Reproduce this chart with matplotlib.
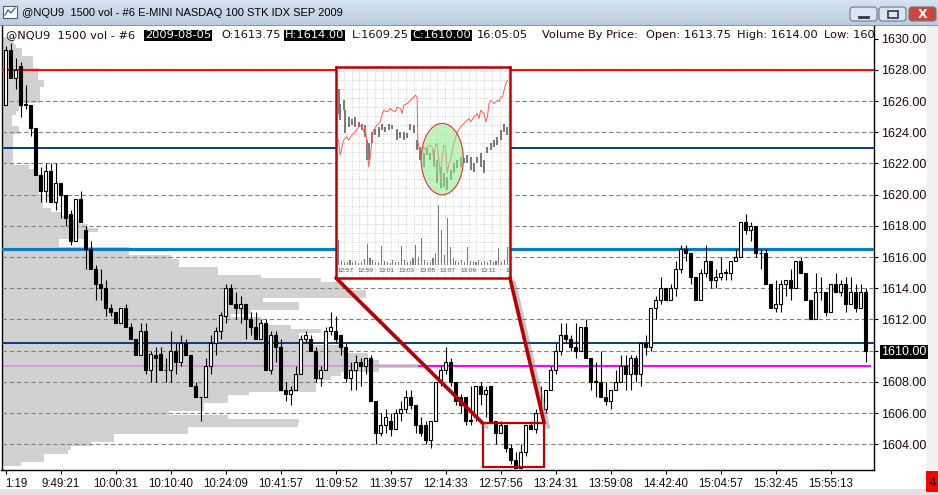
import numpy as np
import matplotlib
matplotlib.use("Agg")
import matplotlib.pyplot as plt
import matplotlib.patheffects as pe
from matplotlib.patches import Rectangle, Ellipse, ConnectionPatch, FancyBboxPatch
from matplotlib.colors import LinearSegmentedColormap
from matplotlib.ticker import MultipleLocator

W, H = 938, 495

# 1500-volume bars, @NQU9 2009-08-05
opens = [1625.75, 1629.25, 1627.5, 1628.25, 1625.75, 1625.75, 1624.25, 1621.25, 1620.25, 1621.5,
         1619.5, 1620.75, 1620.0, 1618.75, 1617.0, 1619.75, 1617.75, 1616.5, 1615.25, 1614.25,
         1614.0, 1612.75, 1612.5, 1611.75, 1612.75, 1611.5, 1610.75, 1609.75, 1611.25, 1608.75,
         1609.75, 1609.75, 1608.75, 1608.75, 1610.0, 1609.25, 1610.5, 1609.75, 1607.75, 1607.0,
         1607.0, 1609.0, 1610.5, 1611.25, 1612.25, 1614.0, 1613.0, 1612.75, 1613.0, 1612.0,
         1611.5, 1610.75, 1611.75, 1608.75, 1611.0, 1610.25, 1607.5, 1607.25, 1607.5, 1608.5,
         1610.75, 1610.75, 1610.0, 1608.25, 1608.75, 1611.25, 1611.25, 1611.0, 1610.25, 1608.25,
         1608.75, 1609.25, 1609.0, 1609.5, 1606.75, 1604.75, 1605.25, 1605.5, 1605.0, 1606.0,
         1606.25, 1607.0, 1606.5, 1605.25, 1605.25, 1604.25, 1605.5, 1608.0, 1608.75, 1609.25,
         1608.0, 1607.0, 1607.0, 1605.5, 1605.75, 1607.75, 1607.25, 1607.75, 1605.5, 1604.75,
         1605.25, 1603.75, 1603.0, 1602.5, 1603.5, 1605.25, 1605.0, 1606.0, 1606.25, 1607.5,
         1608.75, 1610.0, 1611.0, 1610.75, 1610.25, 1610.0, 1611.5, 1609.5, 1608.0, 1608.0,
         1607.0, 1606.75, 1607.5, 1608.0, 1609.0, 1608.5, 1609.5, 1608.5, 1610.5, 1610.25,
         1612.75, 1613.25, 1614.0, 1613.25, 1614.0, 1615.25, 1616.5, 1616.25, 1614.75, 1613.25,
         1615.0, 1615.75, 1614.5, 1614.75, 1615.0, 1615.0, 1615.75, 1616.0, 1618.25, 1617.75,
         1618.0, 1616.25, 1616.25, 1614.25, 1612.75, 1613.0, 1614.25, 1614.5, 1614.0, 1615.75,
         1615.0, 1613.25, 1612.0, 1613.75, 1613.75, 1612.5, 1614.25, 1613.75, 1614.25, 1613.0,
         1613.75, 1612.75, 1613.75]
highs = [1629.5, 1629.75, 1628.75, 1628.5, 1627.0, 1625.75, 1624.25, 1621.75, 1622.0, 1622.0,
         1622.0, 1620.75, 1620.0, 1619.0, 1619.75, 1620.25, 1618.0, 1617.0, 1615.5, 1615.25,
         1614.5, 1613.0, 1612.5, 1612.75, 1613.0, 1611.75, 1610.75, 1611.75, 1611.75, 1610.0,
         1610.25, 1610.25, 1609.5, 1611.25, 1610.5, 1611.0, 1610.75, 1609.75, 1608.0, 1607.0,
         1609.5, 1611.0, 1611.5, 1612.5, 1614.25, 1614.25, 1613.75, 1613.5, 1613.0, 1612.5,
         1612.5, 1612.0, 1612.0, 1611.25, 1611.25, 1610.75, 1608.0, 1607.75, 1609.0, 1611.0,
         1611.25, 1611.0, 1610.25, 1609.0, 1611.5, 1612.5, 1612.25, 1611.0, 1610.5, 1609.25,
         1609.75, 1609.5, 1609.5, 1609.75, 1606.75, 1606.0, 1606.25, 1606.0, 1606.25, 1606.75,
         1607.5, 1607.5, 1606.5, 1605.75, 1605.5, 1605.5, 1608.0, 1609.0, 1610.25, 1609.5,
         1608.0, 1607.25, 1607.0, 1607.75, 1607.75, 1608.0, 1607.75, 1607.75, 1605.5, 1605.5,
         1605.25, 1604.0, 1603.5, 1604.0, 1605.25, 1605.5, 1606.25, 1607.75, 1607.5, 1609.0,
         1610.5, 1611.75, 1611.75, 1611.0, 1611.75, 1611.5, 1612.0, 1609.5, 1609.25, 1610.0,
         1608.0, 1607.5, 1608.75, 1609.75, 1609.75, 1609.75, 1609.75, 1610.5, 1611.0, 1612.75,
         1613.5, 1614.75, 1614.0, 1614.25, 1615.75, 1616.75, 1616.75, 1616.25, 1614.75, 1615.25,
         1616.75, 1615.75, 1615.25, 1616.0, 1615.25, 1615.75, 1616.5, 1618.25, 1618.75, 1618.25,
         1618.0, 1616.5, 1616.5, 1614.25, 1614.5, 1614.5, 1614.5, 1615.25, 1615.75, 1616.0,
         1615.0, 1613.25, 1615.0, 1614.75, 1613.75, 1614.25, 1615.0, 1614.5, 1614.75, 1614.75,
         1614.25, 1614.25, 1614.0]
lows = [1625.75, 1627.5, 1626.75, 1625.0, 1625.5, 1623.75, 1621.25, 1619.5, 1619.5, 1619.5,
        1619.0, 1618.5, 1618.0, 1616.75, 1617.0, 1618.25, 1615.25, 1615.25, 1613.25, 1613.25,
        1612.25, 1612.25, 1611.75, 1611.75, 1611.5, 1610.75, 1609.75, 1609.75, 1608.5, 1608.0,
        1608.0, 1608.75, 1608.0, 1608.0, 1608.5, 1609.0, 1609.75, 1607.75, 1607.0, 1605.5,
        1607.0, 1608.5, 1609.75, 1610.75, 1611.75, 1613.0, 1612.0, 1611.75, 1610.75, 1611.0,
        1610.75, 1610.75, 1608.75, 1608.5, 1609.25, 1607.5, 1606.75, 1606.5, 1607.5, 1608.5,
        1610.5, 1610.0, 1608.0, 1607.75, 1608.75, 1611.0, 1610.5, 1609.75, 1608.0, 1607.5,
        1607.5, 1607.75, 1608.5, 1606.75, 1604.0, 1604.5, 1604.75, 1604.5, 1605.0, 1605.5,
        1606.0, 1606.25, 1604.75, 1604.5, 1604.0, 1603.75, 1605.5, 1607.75, 1608.5, 1607.75,
        1606.5, 1606.0, 1605.25, 1605.25, 1605.5, 1606.5, 1605.75, 1605.5, 1604.0, 1604.75,
        1603.5, 1602.75, 1602.5, 1602.5, 1603.25, 1605.0, 1604.75, 1605.75, 1606.0, 1607.5,
        1608.5, 1609.75, 1610.5, 1610.0, 1609.5, 1610.0, 1609.5, 1607.5, 1607.0, 1607.0,
        1606.5, 1606.25, 1607.5, 1608.0, 1607.5, 1607.5, 1608.0, 1607.75, 1609.75, 1610.0,
        1612.0, 1613.0, 1613.25, 1613.25, 1613.5, 1615.0, 1615.75, 1614.25, 1613.25, 1613.25,
        1614.75, 1614.0, 1614.0, 1614.5, 1614.5, 1614.5, 1615.75, 1616.0, 1617.5, 1617.0,
        1616.0, 1615.25, 1614.25, 1612.75, 1612.5, 1612.5, 1613.5, 1613.25, 1614.0, 1615.0,
        1613.25, 1612.0, 1612.0, 1613.25, 1612.25, 1612.5, 1613.75, 1613.5, 1612.5, 1613.0,
        1612.5, 1612.75, 1609.25]
closes = [1629.25, 1627.5, 1628.0, 1625.75, 1625.75, 1624.25, 1621.25, 1620.25, 1621.5, 1619.5,
          1620.75, 1620.0, 1618.5, 1617.0, 1619.75, 1618.25, 1616.5, 1615.25, 1614.25, 1614.0,
          1612.75, 1612.5, 1611.75, 1612.75, 1611.5, 1610.75, 1609.75, 1611.25, 1608.75, 1609.75,
          1609.5, 1608.75, 1608.75, 1610.0, 1609.25, 1610.5, 1609.75, 1607.75, 1607.0, 1607.0,
          1609.0, 1610.5, 1611.25, 1612.25, 1614.0, 1613.0, 1612.75, 1613.0, 1612.0, 1611.5,
          1610.75, 1611.75, 1608.75, 1611.0, 1610.25, 1607.5, 1607.25, 1607.5, 1608.5, 1610.75,
          1611.0, 1610.0, 1608.25, 1608.75, 1611.25, 1611.5, 1610.75, 1610.25, 1608.25, 1608.75,
          1609.25, 1609.0, 1609.5, 1606.75, 1604.75, 1605.25, 1605.75, 1605.0, 1606.0, 1606.25,
          1607.0, 1606.5, 1605.25, 1604.75, 1604.25, 1605.5, 1608.0, 1608.75, 1609.25, 1608.0,
          1606.75, 1606.5, 1605.5, 1605.5, 1607.75, 1607.25, 1607.5, 1605.5, 1604.75, 1605.25,
          1603.75, 1603.0, 1602.5, 1603.5, 1605.25, 1605.0, 1606.0, 1606.0, 1607.5, 1608.75,
          1610.0, 1611.0, 1610.75, 1610.25, 1610.0, 1611.5, 1609.5, 1608.0, 1608.0, 1607.0,
          1606.75, 1607.5, 1608.0, 1609.0, 1608.5, 1609.5, 1608.5, 1610.5, 1610.25, 1612.75,
          1613.25, 1614.0, 1613.25, 1614.0, 1615.25, 1616.5, 1616.25, 1614.75, 1613.25, 1615.0,
          1615.75, 1614.5, 1614.75, 1615.0, 1615.0, 1615.75, 1616.0, 1618.25, 1617.75, 1618.0,
          1616.25, 1616.25, 1614.25, 1612.75, 1613.0, 1614.25, 1614.5, 1614.0, 1615.75, 1615.0,
          1613.25, 1612.0, 1613.75, 1613.75, 1612.5, 1614.25, 1613.75, 1614.25, 1613.0, 1613.75,
          1612.75, 1613.75, 1610.0]

time_labels = ["1:19", "9:49:21", "10:00:31", "10:10:40", "10:24:09", "10:41:57", "11:09:52",
               "11:39:57", "12:14:33", "12:57:56", "13:24:31", "13:59:08", "14:42:40",
               "15:04:57", "15:32:45", "15:55:13"]

# volume by price, 0.25 steps from 1630.00 down to 1602.75
vbp_top = 1630.0
vbp_volume = [9, 12, 14, 20, 20, 31, 31, 31, 36, 36, 36, 42, 42, 38, 38, 38, 38, 19, 17, 14,
              10, 10, 10, 17, 17, 11, 11, 11, 11, 11, 11, 11, 11, 27, 36, 37, 37, 37, 37, 37,
              37, 41, 41, 41, 49, 59, 69, 79, 86, 96, 84, 82, 57, 57, 127, 127, 169, 177, 177, 216,
              216, 259, 319, 342, 342, 364, 364, 261, 297, 297, 249, 229, 259, 259, 289, 319, 297, 297,
              309, 342, 342, 366, 366, 377, 416, 377, 339, 329, 314, 314, 314, 247, 226, 226, 202, 202,
              167, 226, 297, 296, 186, 186, 112, 112, 89, 69, 66, 42, 42, 19]

# horizontal levels
level_red = 1628.0
level_navy = [1623.0, 1610.5]
level_blue = 1616.5
level_magenta = 1609.0

# zoom window (bars / prices)
zoom_x = (95.4, 107.7)
zoom_y = (1602.55, 1605.35)

# inset: tick chart 12:57 - 13:13 (minutes after 12:00)
ins_t = [56.35, 56.51, 56.84, 57.16, 57.33, 57.65, 57.98, 58.31, 58.63, 58.8, 58.96, 59.12, 59.29,
         59.45, 59.61, 59.78, 60.1, 60.43, 60.59, 60.76, 61.08, 61.41, 61.58, 61.9, 62.07, 62.39,
         62.56, 62.72, 63.05, 63.37, 63.7, 63.86, 64.03, 64.09, 64.19, 64.35, 64.68, 64.84, 65.17,
         65.5, 65.66, 65.82, 65.99, 66.15, 66.31, 66.48, 66.64, 66.8, 66.97, 67.13, 67.29, 67.46,
         67.62, 67.95, 68.27, 68.6, 68.93, 69.09, 69.25, 69.58, 69.91, 70.07, 70.24, 70.56, 70.73,
         70.89, 71.05, 71.22, 71.54, 71.87, 72.03, 72.2, 72.36, 72.52, 72.69, 72.85]
ins_line = [45, 33.75, 45, 47.5, 45, 48.75, 51.25, 55, 56.25, 51.25, 55, 42.5, 25, 32.5, 45, 52.5,
            56.25, 58.75, 63.75, 67.5, 66.25, 68.75, 67.5, 66.25, 70, 68.75, 65, 71.25, 72.5, 75,
            77.5, 78.75, 77.5, 45, 40, 32.5, 40, 37.5, 41.25, 40, 30, 41.25, 42.5, 30, 15, 32.5,
            41.25, 40, 20, 27.5, 30, 37.5, 42.5, 51.25, 55, 57.5, 60, 61.25, 58.75, 62.5, 65,
            61.25, 67.5, 65, 58.75, 62.5, 72.5, 75, 72.5, 75, 73.75, 77.5, 77.5, 82.5, 87.5, 90]
ins_bar_t = [56.35, 56.51, 56.84, 57.0, 57.33, 57.65, 57.98, 58.31, 58.63, 58.96, 59.12, 59.29,
             59.61, 59.94, 60.27, 60.59, 60.92, 61.25, 61.58, 62.07, 62.39, 62.72, 63.05, 63.37,
             63.7, 64.03, 64.35, 64.68, 65.0, 65.33, 65.66, 65.99, 66.31, 66.64, 66.97, 67.29,
             67.62, 67.95, 68.27, 68.6, 68.93, 69.25, 69.58, 69.91, 70.24, 70.56, 70.89, 71.22,
             71.54, 71.87, 72.2, 72.52, 72.85]
ins_bar_hi = [83.75, 72.5, 75, 67.5, 62.5, 61.25, 62.5, 58.75, 57.5, 56.25, 45, 42.5, 51.25, 53.75,
              55, 57.5, 55, 57.5, 56.25, 53.75, 51.25, 51.25, 50, 57.5, 56.25, 45, 40, 35, 38.75,
              35, 37.5, 30, 25, 20, 17.5, 22.5, 27.5, 30, 32.5, 31.25, 33.75, 32.5, 27.5, 32.5, 35,
              30, 40, 42.5, 45, 47.5, 52.5, 57.5, 55]
ins_bar_lo = [65, 60, 67.5, 50, 55, 56.25, 55, 55, 52.5, 47.5, 30, 30, 42.5, 48.75, 47.5, 52.5,
              51.25, 52.5, 53.75, 45, 46.25, 45, 46.25, 52.5, 50, 37.5, 30, 25, 33.75, 30, 25,
              12.5, 8.75, 10, 7.5, 15, 20, 23.75, 25, 27.5, 27.5, 22.5, 21.25, 27.5, 25, 20, 35,
              37.5, 40, 41.25, 45, 51.25, 48.75]
ins_vol = [75, 12, 8, 10, 15, 8, 12, 6, 10, 18, 62, 20, 14, 10, 8, 57, 12, 10, 6, 14,
           10, 8, 57, 15, 10, 12, 20, 60, 25, 80, 15, 10, 8, 22, 35, 180, 105, 30, 140, 55,
           20, 12, 8, 14, 10, 55, 12, 8, 10, 15, 8, 12, 10, 14, 8, 12, 50, 10, 15, 55]
ins_ticks = [57, 59, 61, 63, 65, 67, 69, 71, 73]
ins_tick_labels = ["12:57", "12:59", "13:01", "13:03", "13:05", "13:07", "13:09", "13:11", "13"]

TXT = "#1e0808"

fig = plt.figure(figsize=(W / 100, H / 100), dpi=100)
fig.patch.set_facecolor("white")


def fx(px):
    return px / W


def fy(py):
    return 1 - py / H


# ---- window chrome ----
bg = fig.add_axes([0, 0, 1, 1], zorder=0)
tb_cmap = LinearSegmentedColormap.from_list("tb", ["#d6e2ef", "#bccde1"])
bg.imshow(np.linspace(0, 1, 25).reshape(-1, 1), extent=(0, W, 25, 0), cmap=tb_cmap, aspect="auto")
bg.plot([0, W], [25, 25], color="#8a98a8", lw=0.8)
bg.add_patch(Rectangle((927, 25), 11, 445, fc="#f0f0f0", ec="none"))
bg.add_patch(Rectangle((0, 489), W, 6, fc="#e4e4e4", ec="none"))
bg.add_patch(Rectangle((926, 471), 12, 21, fc="#ff0000", ec="none"))
bg.text(932, 482, "4", fontsize=9, ha="center", va="center", color="black")
bg.add_patch(Rectangle((3, 6), 14, 12, fc="white", ec="#505a66", lw=0.8))
bg.plot([5, 8, 11, 15], [15, 10, 13, 8], color="#2060c0", lw=0.9)
bg.text(22, 12.5, "@NQU9  1500 vol - #6 E-MINI NASDAQ 100 STK IDX SEP 2009",
        fontsize=8.0, family="Liberation Sans", va="center", ha="left", color="black")
for x0, col in [(850, "#dbe5f1"), (879, "#dbe5f1"), (909, "#c9473d")]:
    bg.add_patch(FancyBboxPatch((x0, 7), 27, 14, boxstyle="round,pad=0,rounding_size=3",
                                fc=col, ec="#6b7888", lw=0.8))
bg.plot([859, 868], [16.5, 16.5], color="#2a3a50", lw=2)
bg.add_patch(Rectangle((888, 10.5), 10, 7, fc="none", ec="#2a3a50", lw=1.2))
bg.text(922.5, 14, "X", fontsize=9, fontweight="bold", color="white", ha="center", va="center")
bg.set_xlim(0, W)
bg.set_ylim(H, 0)
bg.axis("off")

# ---- main chart ----
x_lo, x_hi = (1.5 - 5.67) / 5, (874 - 5.67) / 5
y_lo, y_hi = 1626 - (470 - 101) / 15.6, 1626 + (101 - 26) / 15.6

ax = fig.add_axes([fx(1.5), fy(470), (874 - 1.5) / W, (470 - 26) / H], zorder=1)
ax.set_facecolor("white")
ax.set_xlim(x_lo, x_hi)
ax.set_ylim(y_lo, y_hi)

idx = np.arange(len(opens))
o, h, l, c = (np.array(v) for v in (opens, highs, lows, closes))

# volume by price profile
vbp_prices = vbp_top - 0.25 * np.arange(len(vbp_volume))
ax.axhline(level_magenta, xmin=0, xmax=(870 - 1.5) / 872.5, color="#ff00ff", lw=1.5, zorder=1)
ax.barh(vbp_prices, np.array(vbp_volume) / 5, left=x_lo, height=0.25,
        color=(0.78, 0.78, 0.78), alpha=0.82, lw=0, zorder=2)

for p in range(1604, 1630, 2):
    ax.axhline(p, color="#808080", lw=0.8, ls=(0, (4, 2.5)), zorder=3)

ax.axhline(level_red, color="#ff0a0a", lw=1.5, zorder=4)
for lv in level_navy:
    ax.axhline(lv, color="#0b3b78", lw=1.4, zorder=4)
ax.axhline(level_blue, color="#0a7cc0", lw=2.3, zorder=4)

# candles
up = c >= o
body_lo = np.minimum(o, c)
body_h = np.maximum(np.abs(c - o), 0.03)
ax.vlines(idx, l, h, color="black", lw=0.8, zorder=5)
ax.bar(idx[up], body_h[up], bottom=body_lo[up], width=0.72, color="white",
       edgecolor="black", lw=0.8, zorder=6)
ax.bar(idx[~up], body_h[~up], bottom=body_lo[~up], width=0.72, color="black",
       edgecolor="black", lw=0.8, zorder=6)

# zoom rectangle
ax.add_patch(Rectangle((zoom_x[0], zoom_y[0]), zoom_x[1] - zoom_x[0], zoom_y[1] - zoom_y[0],
                       fill=False, ec="#c00000", lw=1.6, zorder=8))

# axes styling
ax.spines["top"].set_visible(False)
for s in ("left", "right", "bottom"):
    ax.spines[s].set_color("black")
    ax.spines[s].set_linewidth(1.0)
ax.yaxis.tick_right()
yt = list(range(1604, 1631, 2))
ax.set_yticks(yt, labels=[f"{v:.2f}" for v in yt])
ax.tick_params(axis="y", direction="out", length=3, width=0.8, pad=2, labelsize=9,
               labelcolor=TXT, labelfontfamily="Liberation Sans")
for lab in ax.get_yticklabels():
    if lab.get_text() == "1610.00":
        lab.set_color("white")
        lab.set_bbox(dict(facecolor="black", edgecolor="none", pad=1))
ax.set_xticks(idx[::11], labels=time_labels)
ax.tick_params(axis="x", direction="out", length=3, width=0.8, pad=3, labelsize=8.3,
               labelcolor=TXT, labelfontfamily="Liberation Sans")
ax.get_xticklabels()[0].set_horizontalalignment("left")


def axp(px, py):
    return ((px - 1.5) / 872.5, (470 - py) / 444)


# header line
header = [(6, "@NQU9  1500 vol - #6", False), (145, "2009-08-05", True), (221, "O:1613.75", False),
          (285, "H:1614.00", True), (352, "L:1609.25", False), (412, "C:1610.00", True),
          (477, "16:05:05", False), (542, "Volume By Price:", False), (646, "Open: 1613.75", False),
          (737, "High: 1614.00", False), (824, "Low: 160", False)]
for px, s, inv in header:
    kw = dict(color="white", bbox=dict(facecolor="black", edgecolor="none", pad=0.6)) if inv else dict(color=TXT)
    ax.text(*axp(px, 35.5), s, transform=ax.transAxes, fontsize=8.2, ha="left", va="center",
            clip_on=True, zorder=9, **kw)

# ---- inset ----
ins = fig.add_axes([fx(336), fy(278), 174 / W, 211 / H], zorder=5)
ins.set_facecolor("white")
ins.set_xlim(0, 174)
ins.set_ylim(0, 211)
ins.xaxis.set_major_locator(MultipleLocator(7.8))
ins.yaxis.set_major_locator(MultipleLocator(9))
ins.grid(True, color="#c4c4c4", ls=":", lw=0.6)
ins.tick_params(length=0, labelbottom=False, labelleft=False)
for s in ins.spines.values():
    s.set_color("#c00000")
    s.set_linewidth(1.8)

ip = fig.add_axes([fx(337), fy(200), 172 / W, 133 / H], zorder=6)
ip.set_xlim(56.2, 73.0)
ip.set_ylim(0, 100)
ip.axis("off")
ip.vlines(ins_bar_t, ins_bar_lo, ins_bar_hi, color="#6e6e6e", lw=1.3, zorder=2)
ip.plot(ins_t, ins_line, color="#ff5a5a", lw=0.7, zorder=3)
ip.add_patch(Ellipse((66.48, 30.75), 4.12, 53.75, fc=(0.55, 0.92, 0.55, 0.55),
                     ec="#e83030", lw=0.8, zorder=4))

iv = fig.add_axes([fx(337), fy(265), 172 / W, 65 / H], zorder=6)
iv.set_xlim(56.2, 73.0)
iv.set_ylim(0, 195)
iv.bar(np.linspace(56.35, 72.85, len(ins_vol)), ins_vol, width=0.11, color="#7a7a7a", lw=0)
iv.axhline(0, color="#909090", lw=0.8)
iv.set_xticks(ins_ticks, labels=ins_tick_labels)
iv.tick_params(axis="x", length=0, pad=2.5, labelsize=4.6, labelcolor="#555555",
               labelfontfamily="Liberation Sans")
iv.tick_params(axis="y", left=False, labelleft=False)
for s in iv.spines.values():
    s.set_visible(False)
iv.patch.set_alpha(0)

# connectors from inset to zoom window
shadow = [pe.SimpleLineShadow(offset=(3, -3), shadow_color="#808080", alpha=0.45), pe.Normal()]
for xa, xb in ((0, zoom_x[0]), (1, zoom_x[1])):
    con = ConnectionPatch(xyA=(xa, 0), coordsA=ins.transAxes, xyB=(xb, zoom_y[1]),
                          coordsB=ax.transData, color="#b80000", lw=2.6, zorder=7)
    con.set_path_effects(shadow)
    fig.add_artist(con)

fig.savefig("out.png", dpi=100)
